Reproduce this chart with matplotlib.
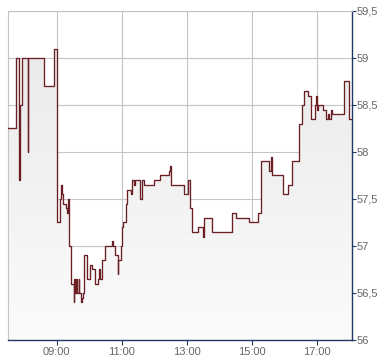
import numpy as np
import pandas as pd
import matplotlib
matplotlib.use("Agg")
import matplotlib.pyplot as plt
import matplotlib.dates as mdates
from matplotlib.ticker import FuncFormatter

plt.rcParams['font.family'] = ['Liberation Sans', 'DejaVu Sans']

# intraday quotes (time of change, price)
times = ["07:30", "07:44", "07:51", "07:53", "07:55", "08:06", "08:07", "08:37", "08:54",
         "09:01", "09:05", "09:08", "09:10", "09:12", "09:17", "09:18", "09:20", "09:23",
         "09:27", "09:31", "09:32", "09:34", "09:36", "09:38", "09:40", "09:41", "09:45",
         "09:47", "09:49", "09:51", "09:55", "09:56", "10:02", "10:05", "10:11", "10:15",
         "10:18", "10:20", "10:23", "10:29", "10:41", "10:43", "10:48", "10:52", "10:53",
         "10:59", "11:01", "11:02", "11:07", "11:09", "11:17", "11:19", "11:22", "11:24",
         "11:34", "11:37", "11:41", "12:00", "12:11", "12:26", "12:28", "12:30", "12:31",
         "12:55", "13:02", "13:05", "13:10", "13:21", "13:30", "13:32", "13:46", "14:23",
         "14:30", "14:55", "15:10", "15:17", "15:31", "15:34", "15:37", "15:56", "16:07",
         "16:14", "16:27", "16:32", "16:36", "16:43", "16:48", "16:56", "16:58", "16:59",
         "17:02", "17:10", "17:17", "17:19", "17:21", "17:25", "17:27", "17:50", "17:58",
         "18:04"]
prices = [58.25, 59.0, 57.7, 58.5, 59.0, 58.0, 59.0, 58.7, 59.1,
          57.25, 57.5, 57.65, 57.55, 57.45, 57.4, 57.35, 57.5, 57.0,
          56.6, 56.4, 56.65, 56.5, 56.65, 56.5, 56.65, 56.5, 56.4,
          56.45, 56.5, 56.9, 56.75, 56.65, 56.8, 56.75, 56.6, 56.65,
          56.75, 56.65, 56.85, 57.0, 57.05, 57.0, 56.9, 56.7, 56.85,
          57.0, 57.2, 57.25, 57.45, 57.6, 57.55, 57.7, 57.65, 57.7,
          57.5, 57.7, 57.65, 57.7, 57.75, 57.8, 57.85, 57.75, 57.65,
          57.55, 57.7, 57.4, 57.15, 57.2, 57.1, 57.3, 57.15, 57.35,
          57.3, 57.25, 57.35, 57.9, 57.8, 57.95, 57.75, 57.55, 57.65,
          57.9, 58.3, 58.5, 58.65, 58.6, 58.35, 58.5, 58.6, 58.45,
          58.5, 58.45, 58.35, 58.4, 58.35, 58.45, 58.4, 58.75, 58.35,
          58.35]
x_ticks = ["09:00", "11:00", "13:00", "15:00", "17:00"]
y_ticks = [56, 56.5, 57, 57.5, 58, 58.5, 59, 59.5]

day = "2024-01-02 "
t = pd.to_datetime([day + s for s in times])
tick_t = pd.to_datetime([day + s for s in x_ticks])

fig = plt.figure(figsize=(3.9, 3.64), dpi=100)
ax = fig.add_axes([0.0205, 0.066, 0.882, 0.904])

ymin, ymax = 56, 59.5
xnum = mdates.date2num(t)

# gradient fill under the step line
grad = np.linspace(0, 1, 256).reshape(-1, 1)
cmap = matplotlib.colors.LinearSegmentedColormap.from_list("g", ["#fbfbfb", "#e8e8e8"])
im = ax.imshow(grad, aspect="auto", cmap=cmap, origin="lower",
               extent=[xnum[0], xnum[-1], ymin, ymax], zorder=1)
poly = ax.fill_between(t, prices, ymin, step="post", facecolor="none", edgecolor="none")
im.set_clip_path(poly.get_paths()[0], transform=ax.transData)

ax.plot(t, prices, drawstyle="steps-post", color="#6b1e24", lw=0.95, zorder=3)

ax.set_xlim(xnum[0], xnum[-1])
ax.set_ylim(ymin, ymax)
ax.set_xticks(tick_t)
ax.xaxis.set_major_formatter(mdates.DateFormatter("%H:%M"))
ax.set_yticks(y_ticks)
ax.yaxis.set_major_formatter(FuncFormatter(lambda v, p: f"{v:g}".replace(".", ",")))
ax.yaxis.tick_right()

ax.grid(True, color="#c4c4c4", lw=0.8, zorder=0)
ax.set_axisbelow(True)
for s in ["left", "top"]:
    ax.spines[s].set_color("#c4c4c4")
    ax.spines[s].set_linewidth(0.8)
for s in ["bottom", "right"]:
    ax.spines[s].set_color("#1f3864")
    ax.spines[s].set_linewidth(1.0)

ax.tick_params(axis="x", length=3.5, width=0.8, color="#1f3864", labelcolor="#666666",
               labelsize=8, pad=1.5)
ax.tick_params(axis="y", length=3, width=0.8, color="#1f3864", labelcolor="#666666",
               labelsize=8, pad=0.5)

fig.savefig("out.png", dpi=100)
